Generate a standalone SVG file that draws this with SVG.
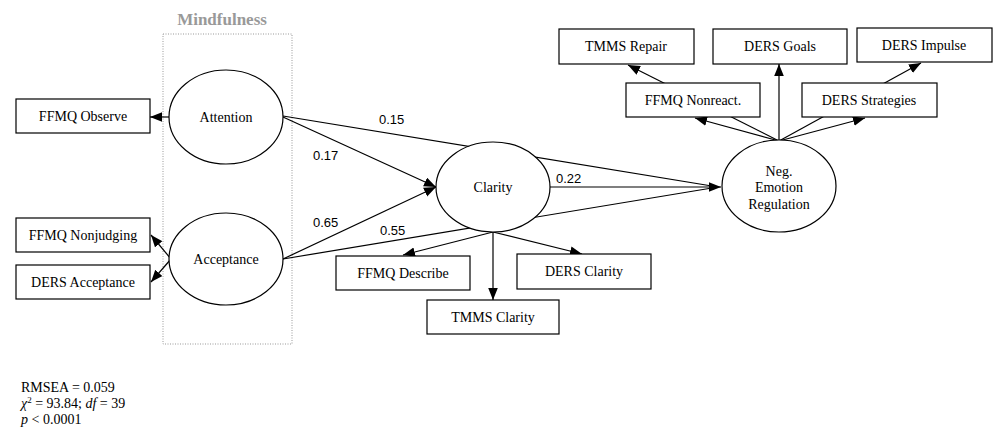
<svg xmlns="http://www.w3.org/2000/svg" width="993" height="433" viewBox="0 0 993 433">
<style>
.box{fill:#fff;stroke:#000;stroke-width:1.2}
.ell{fill:#fff;stroke:#000;stroke-width:1.2}
.t{font-family:"Liberation Serif","Times New Roman",serif;font-size:14px;fill:#000;text-anchor:middle}
.n{font-family:"Liberation Sans",Arial,sans-serif;font-size:13px;fill:#000}
.c{stroke:#000;stroke-width:1.2;fill:none}
.a{marker-end:url(#ah)}
.fit{font-family:"Liberation Serif","Times New Roman",serif;font-size:14px;fill:#000}
</style>
<defs>
<marker id="ah" markerUnits="userSpaceOnUse" markerWidth="12" markerHeight="10" viewBox="0 0 10 8" refX="10" refY="4" orient="auto">
<path d="M0,0 L10,4 L0,8 Z" fill="#000"/>
</marker>
</defs>
<rect width="993" height="433" fill="#fff"/>

<g id="mindfulness">
<rect x="163" y="34" width="129" height="310" fill="none" stroke="#999" stroke-width="1" stroke-dasharray="1,1.5"/>
<text x="222" y="25" style="font-family:'Liberation Serif','Times New Roman',serif;font-size:17px;font-weight:bold;fill:#999;text-anchor:middle">Mindfulness</text>
</g>

<g id="connectors">
<line class="c a" x1="170" y1="117" x2="150" y2="117"/>
<line class="c a" x1="171" y1="259" x2="151" y2="235"/>
<line class="c a" x1="171" y1="259" x2="151" y2="282"/>
<line class="c" x1="283" y1="116" x2="718" y2="187"/>
<line class="c" x1="283" y1="259" x2="718" y2="187"/>
<line class="c a" x1="283" y1="117" x2="436" y2="187"/>
<line class="c a" x1="283" y1="259" x2="436" y2="187"/>
<line class="c a" x1="550" y1="187" x2="721" y2="187"/>
<line class="c a" x1="493" y1="232" x2="403" y2="255"/>
<line class="c a" x1="493" y1="232" x2="582" y2="254"/>
<line class="c a" x1="493" y1="232" x2="493" y2="300"/>
<line class="c a" x1="779" y1="141" x2="695" y2="118"/>
<line class="c a" x1="779" y1="141" x2="779" y2="64"/>
<line class="c a" x1="779" y1="141" x2="865" y2="118"/>
<line class="c a" x1="779" y1="141" x2="628" y2="65"/>
<line class="c a" x1="779" y1="141" x2="921" y2="63"/>
<text class="n" x="379" y="124">0.15</text>
<text class="n" x="313" y="160">0.17</text>
<text class="n" x="313" y="227">0.65</text>
<text class="n" x="380" y="235">0.55</text>
<text class="n" x="556" y="183">0.22</text>
</g>

<g id="attention"><ellipse class="ell" cx="226" cy="117" rx="57" ry="47"/><text class="t" x="226" y="122">Attention</text></g>
<g id="acceptance"><ellipse class="ell" cx="226" cy="259" rx="57" ry="46"/><text class="t" x="226" y="264">Acceptance</text></g>
<g id="clarity"><ellipse class="ell" cx="493" cy="187" rx="57" ry="45"/><text class="t" x="493" y="192">Clarity</text></g>
<g id="ner"><ellipse class="ell" cx="779" cy="186" rx="57" ry="46"/>
<text class="t" x="779" y="176">Neg.</text><text class="t" x="779" y="192">Emotion</text><text class="t" x="779" y="209">Regulation</text></g>

<g id="ffmq-observe"><rect class="box" x="16" y="99" width="134" height="34"/><text class="t" x="83" y="121">FFMQ Observe</text></g>
<g id="ffmq-nonjudging"><rect class="box" x="16" y="218" width="134" height="34"/><text class="t" x="83" y="240">FFMQ Nonjudging</text></g>
<g id="ders-acceptance"><rect class="box" x="16" y="265" width="134" height="34"/><text class="t" x="83" y="287">DERS Acceptance</text></g>
<g id="ffmq-describe"><rect class="box" x="336" y="256" width="134" height="34"/><text class="t" x="403" y="278">FFMQ Describe</text></g>
<g id="ders-clarity"><rect class="box" x="517" y="254" width="134" height="35"/><text class="t" x="584" y="276">DERS Clarity</text></g>
<g id="tmms-clarity"><rect class="box" x="427" y="300" width="132" height="34"/><text class="t" x="493" y="322">TMMS Clarity</text></g>
<g id="tmms-repair"><rect class="box" x="559" y="29" width="135" height="35"/><text class="t" x="626" y="51">TMMS Repair</text></g>
<g id="ders-goals"><rect class="box" x="713" y="29" width="134" height="35"/><text class="t" x="780" y="51">DERS Goals</text></g>
<g id="ders-impulse"><rect class="box" x="857" y="28" width="135" height="34"/><text class="t" x="924" y="50">DERS Impulse</text></g>
<g id="ffmq-nonreact"><rect class="box" x="626" y="83" width="134" height="34"/><text class="t" x="693" y="105">FFMQ Nonreact.</text></g>
<g id="ders-strategies"><rect class="box" x="802" y="83" width="135" height="34"/><text class="t" x="869" y="105">DERS Strategies</text></g>

<g id="fit">
<text class="fit" x="21" y="392">RMSEA = 0.059</text>
<text class="fit" x="21" y="408"><tspan font-style="italic">χ</tspan><tspan font-size="9" dy="-5">2</tspan><tspan dy="5"> = 93.84; </tspan><tspan font-style="italic">df</tspan> = 39</text>
<text class="fit" x="21" y="424"><tspan font-style="italic">p</tspan> &lt; 0.0001</text>
</g>
</svg>
